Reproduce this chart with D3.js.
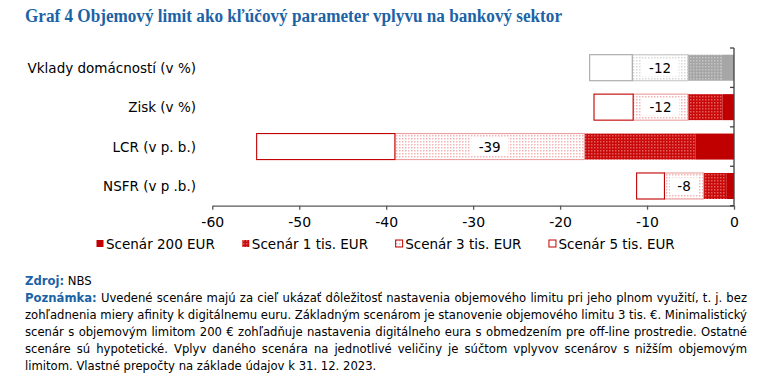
<!DOCTYPE html>
<html><head><meta charset="utf-8">
<script src="https://cdn.jsdelivr.net/npm/d3@7"></script>
<style>body{margin:0;background:#fff}svg{display:block}</style>
</head><body>
<svg id="c" width="780" height="390"></svg>
<script>
// ---- data ----
const title = "Graf 4 Objemový limit ako kľúčový parameter vplyvu na bankový sektor";
const categories = ["Vklady domácností (v %)", "Zisk (v %)", "LCR (v p. b.)", "NSFR (v p .b.)"];
const seriesNames = ["Scenár 200 EUR", "Scenár 1 tis. EUR", "Scenár 3 tis. EUR", "Scenár 5 tis. EUR"];
const s200 = [-1.4, -1.3, -4.4, -0.9];
const s1k  = [-3.9, -4.0, -12.8, -2.6];
const s3k  = [-6.4, -6.3, -21.8, -4.5];
const s5k  = [-4.9, -4.5, -15.9, -3.2];
const xTicks = [-60, -50, -40, -30, -20, -10, 0];
const sourceLabel = "Zdroj:";
const sourceText = "NBS";
const noteLabel = "Poznámka:";
const noteLines = [
  "Uvedené scenáre majú za cieľ ukázať dôležitosť nastavenia objemového limitu pri jeho plnom využití, t. j. bez",
  "zohľadnenia miery afinity k digitálnemu euru. Základným scenárom je stanovenie objemového limitu 3 tis. €. Minimalistický",
  "scenár s objemovým limitom 200 € zohľadňuje nastavenia digitálneho eura s obmedzením pre off-line prostredie. Ostatné",
  "scenáre sú hypotetické. Vplyv daného scenára na jednotlivé veličiny je súčtom vplyvov scenárov s nižším objemovým",
  "limitom. Vlastné prepočty na základe údajov k 31. 12. 2023."
];

// ---- setup ----
const svg = d3.select("#c");
const keys = ["s200", "s1k", "s3k", "s5k"];
const rows = categories.map((c, i) => ({cat: c, s200: s200[i], s1k: s1k[i], s3k: s3k[i], s5k: s5k[i]}));

const x = d3.scaleLinear().domain([-60, 0]).range([212.3, 734]);
const y = d3.scaleBand().domain(categories).range([48, 205.7]).paddingInner(0.34).paddingOuter(0.17);

const SANS = "DejaVu Sans, Verdana, sans-serif";
const BLUE = "#1c63a6";

// patterns
const defs = svg.append("defs");
function dotPattern(id, bg, dot) {
  const p = defs.append("pattern").attr("id", id).attr("patternUnits", "userSpaceOnUse")
    .attr("width", 3).attr("height", 3);
  p.append("rect").attr("width", 3).attr("height", 3).attr("fill", bg);
  p.append("rect").attr("x", 0).attr("y", 0).attr("width", 1.5).attr("height", 1.5).attr("fill", dot);
}
dotPattern("redDense", "#c80a0a", "#e55a5a");
dotPattern("redLight", "#ffffff", "#f3b6b6");
dotPattern("grayDense", "#a6a6a6", "#c4c4c4");
dotPattern("grayLight", "#ffffff", "#dadada");

const red = {s200: {fill: "#c00000", stroke: "none"}, s1k: {fill: "url(#redDense)", stroke: "none"},
             s3k: {fill: "url(#redLight)", stroke: "#eaa0a0"}, s5k: {fill: "#ffffff", stroke: "#c00000"}};
const gray = {s200: {fill: "#a6a6a6", stroke: "none"}, s1k: {fill: "url(#grayDense)", stroke: "none"},
              s3k: {fill: "url(#grayLight)", stroke: "#c8c8c8"}, s5k: {fill: "#ffffff", stroke: "#a6a6a6"}};
const styleFor = (cat, key) => (categories.indexOf(cat) === 0 ? gray : red)[key];

// title
svg.append("text").attr("x", 25).attr("y", 22)
  .attr("font-family", "Liberation Serif, serif").attr("font-weight", "bold").attr("font-size", 18)
  .attr("fill", BLUE).attr("textLength", 537).attr("lengthAdjust", "spacingAndGlyphs").text(title);

// bars
const stack = d3.stack().keys(keys).offset(d3.stackOffsetDiverging);
const series = stack(rows);
const gBars = svg.append("g");
series.forEach(s => {
  gBars.selectAll(null).data(s).join("rect")
    .attr("x", d => x(d[0]))
    .attr("y", d => y(d.data.cat))
    .attr("width", d => x(d[1]) - x(d[0]))
    .attr("height", y.bandwidth())
    .attr("fill", d => styleFor(d.data.cat, s.key).fill)
    .attr("stroke", d => styleFor(d.data.cat, s.key).stroke)
    .attr("stroke-width", 1.1);
});

// value labels (cumulative effect of base scenario 3 tis.)
const s3series = series[2];
const gLab = svg.append("g");
s3series.forEach(d => {
  const cx = (x(d[0]) + x(d[1])) / 2;
  const cy = y(d.data.cat) + y.bandwidth() / 2;
  const val = Math.round(d[0]);
  const t = gLab.append("text").attr("x", cx).attr("y", cy + 5).attr("text-anchor", "middle")
    .attr("font-family", SANS).attr("font-size", 13.5).attr("fill", "#000").text(String(val));
  const w = t.node().getComputedTextLength();
  gLab.insert("rect", "text").attr("x", cx - w / 2 - 7.5).attr("y", cy - 8.5)
    .attr("width", w + 15).attr("height", 17).attr("fill", "#fff");
});

// category labels
svg.append("g").selectAll("text").data(categories).join("text")
  .attr("x", 196).attr("y", d => y(d) + y.bandwidth() / 2 + 5)
  .attr("text-anchor", "end").attr("font-family", SANS).attr("font-size", 13.5).attr("fill", "#000")
  .text(d => d);

// x axis
const xAxis = svg.append("g").attr("transform", "translate(0,205.7)")
  .call(d3.axisBottom(x).tickValues(xTicks).tickFormat(d => String(d)).tickSize(4).tickSizeOuter(0));
xAxis.select(".domain").attr("stroke", "#595959").attr("stroke-width", 1.3);
xAxis.selectAll(".tick line").attr("stroke", "#595959").attr("stroke-width", 1.3);
xAxis.selectAll(".tick text").attr("font-family", SANS).attr("font-size", 14).attr("fill", "#000").attr("dy", "0.95em").attr("y", 8);

// y axis at zero with ticks on band boundaries
const bounds = categories.map(c => y(c) - y.step() * y.paddingInner() / 2).concat([y.range()[1]]);
const gY = svg.append("g");
gY.append("line").attr("x1", x(0)).attr("x2", x(0)).attr("y1", y.range()[0]).attr("y2", y.range()[1])
  .attr("stroke", "#404040").attr("stroke-width", 1.3);
gY.selectAll(".yt").data(bounds).join("line").attr("class", "yt")
  .attr("x1", x(0) - 4).attr("x2", x(0)).attr("y1", d => d).attr("y2", d => d)
  .attr("stroke", "#404040").attr("stroke-width", 1.3);

// legend
const gLeg = svg.append("g");
let lx = 96;
const legY = 244;
keys.forEach((k, i) => {
  const st = red[k];
  gLeg.append("rect").attr("x", lx + 0.5).attr("y", legY - 4).attr("width", 7).attr("height", 7)
    .attr("fill", st.fill).attr("stroke", k === "s200" || k === "s1k" ? "none" : "#c00000").attr("stroke-width", 1);
  const t = gLeg.append("text").attr("x", lx + 10).attr("y", legY + 5)
    .attr("font-family", SANS).attr("font-size", 13.5).attr("fill", "#000").text(seriesNames[i]);
  lx = lx + 10 + t.node().getComputedTextLength() + 27;
});

// notes
const NOTE_FONT = "DejaVu Sans Condensed, DejaVu Sans, sans-serif";
const gN = svg.append("g");
let NOTE_SIZE = 12;
function measure(txt, bold) {
  const t = gN.append("text").attr("font-family", NOTE_FONT).attr("font-size", NOTE_SIZE)
    .attr("font-weight", bold ? "bold" : "normal").text(txt);
  const w = t.node().getComputedTextLength(); t.remove(); return w;
}
function wordsOf(tokens) {
  const words = [];
  tokens.forEach(tk => tk.text.split(" ").filter(s => s.length).forEach(w => words.push({w, bold: tk.bold, color: tk.color})));
  return words;
}
const lineTokens = noteLines.map((ln, i) => i === 0
  ? [{text: noteLabel, bold: true, color: BLUE}, {text: ln, bold: false, color: "#000"}]
  : [{text: ln, bold: false, color: "#000"}]);
// choose font size: last line ~358px wide, but justified lines keep at least 3.6px between words
let sizeFit = 12 * 358 / measure(noteLines[noteLines.length - 1], false);
lineTokens.slice(0, -1).forEach(tk => {
  const ws = wordsOf(tk);
  const sum = d3.sum(ws, o => measure(o.w, o.bold));
  const gaps = ws.length - 1;
  sizeFit = Math.min(sizeFit, 12 * (722 - gaps * 3.6) / sum);
});
NOTE_SIZE = sizeFit;
function layLine(tokens, x0, x1, yy, justify) {
  const words = wordsOf(tokens);
  words.forEach(o => o.width = measure(o.w, o.bold));
  const sum = d3.sum(words, o => o.width);
  const sp = justify ? (x1 - x0 - sum) / (words.length - 1) : measure("a a", false) - measure("aa", false);
  let cx = x0;
  words.forEach(o => {
    gN.append("text").attr("x", cx).attr("y", yy).attr("font-family", NOTE_FONT).attr("font-size", NOTE_SIZE)
      .attr("font-weight", o.bold ? "bold" : "normal").attr("fill", o.color).text(o.w);
    cx += o.width + sp;
  });
}
layLine([{text: sourceLabel, bold: true, color: BLUE}, {text: sourceText, bold: false, color: "#000"}], 25, 747, 285, false);
lineTokens.forEach((toks, i) => {
  layLine(toks, 25, 747, 302 + i * 17, i < noteLines.length - 1);
});
</script>
</body></html>
